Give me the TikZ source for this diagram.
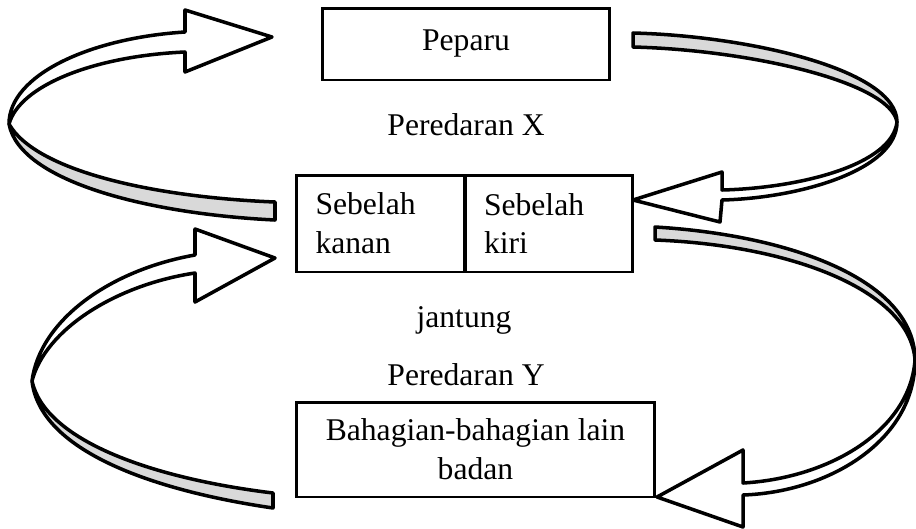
\documentclass[tikz,border=0pt]{standalone}
\usepackage{fontspec}
\setmainfont{Liberation Serif}

\tikzset{
  box/.style={draw, line width=1.7pt, inner sep=0pt},
  ribbon/.style={draw, line width=2pt, line join=round, fill=white},
  ribbonback/.style={ribbon, fill=gray!30},
}

\begin{document}
\begin{tikzpicture}[x=0.02cm,y=-0.02cm,font=\fontsize{18}{22}\selectfont]
        \useasboundingbox (0,0) rectangle (916,528);

        % lungs
        \node[box, minimum width=5.76cm, minimum height=1.44cm] (peparu) at (466,44) {Peparu};
        \node (peredaranX) at (466,125) {Peredaran X};

        % heart, two halves
        \node[box, minimum width=3.38cm, minimum height=1.94cm, text width=2.6cm, align=left] (kanan) at (380.5,223.5) {Sebelah\\kanan};
        \node[box, minimum width=3.36cm, minimum height=1.94cm, text width=2.6cm, align=left] (kiri) at (549,223.5) {Sebelah\\kiri};
        \node (jantung) at (464,320) {jantung};

        % rest of the body
        \node (peredaranY) at (466,375) {Peredaran Y};
        \node[box, minimum width=7.18cm, minimum height=1.9cm, align=center] (badan) at (475.5,449.5) {Bahagian-bahagian lain\\badan};

        % circuit X, right half to lungs
        \path[ribbonback] (9,124) .. controls (20,182) and (150,214) .. (275,220) -- (275,202) .. controls (150,197) and (35,170) .. (9,124) -- cycle;
        \path[ribbon] (9,124) .. controls (9,75) and (90,38) .. (185,32) -- (185,10) -- (272,37) -- (185,72) -- (185,52) .. controls (95,56) and (20,85) .. (9,124) -- cycle;

        % circuit X, lungs to left half
        \path[ribbonback] (633,33) .. controls (750,36) and (897,70) .. (897,122) .. controls (890,82) and (750,50) .. (633,47) -- cycle;
        \path[ribbon] (897,122) .. controls (897,170) and (800,198) .. (722,200) -- (720,222) -- (633,200) -- (722,172) -- (722,190) .. controls (800,188) and (892,165) .. (897,122) -- cycle;

        % circuit Y, body to right half
        \path[ribbonback] (32,381) .. controls (40,450) and (150,490) .. (273,508) -- (273,493) .. controls (150,478) and (45,440) .. (32,381) -- cycle;
        \path[ribbon] (32,381) .. controls (40,320) and (110,270) .. (195,255) -- (195,229) -- (275,258) -- (195,302) -- (195,273) .. controls (115,285) and (45,330) .. (32,381) -- cycle;

        % circuit Y, left half to body
        \path[ribbonback] (655,227) .. controls (790,235) and (915,280) .. (915,360) .. controls (910,290) and (790,245) .. (655,240) -- cycle;
        \path[ribbon] (915,360) .. controls (915,440) and (830,492) .. (743,495) -- (743,527) -- (657,497) -- (743,450) -- (743,483) .. controls (830,478) and (910,430) .. (915,360) -- cycle;
    \end{tikzpicture}
\end{document}
